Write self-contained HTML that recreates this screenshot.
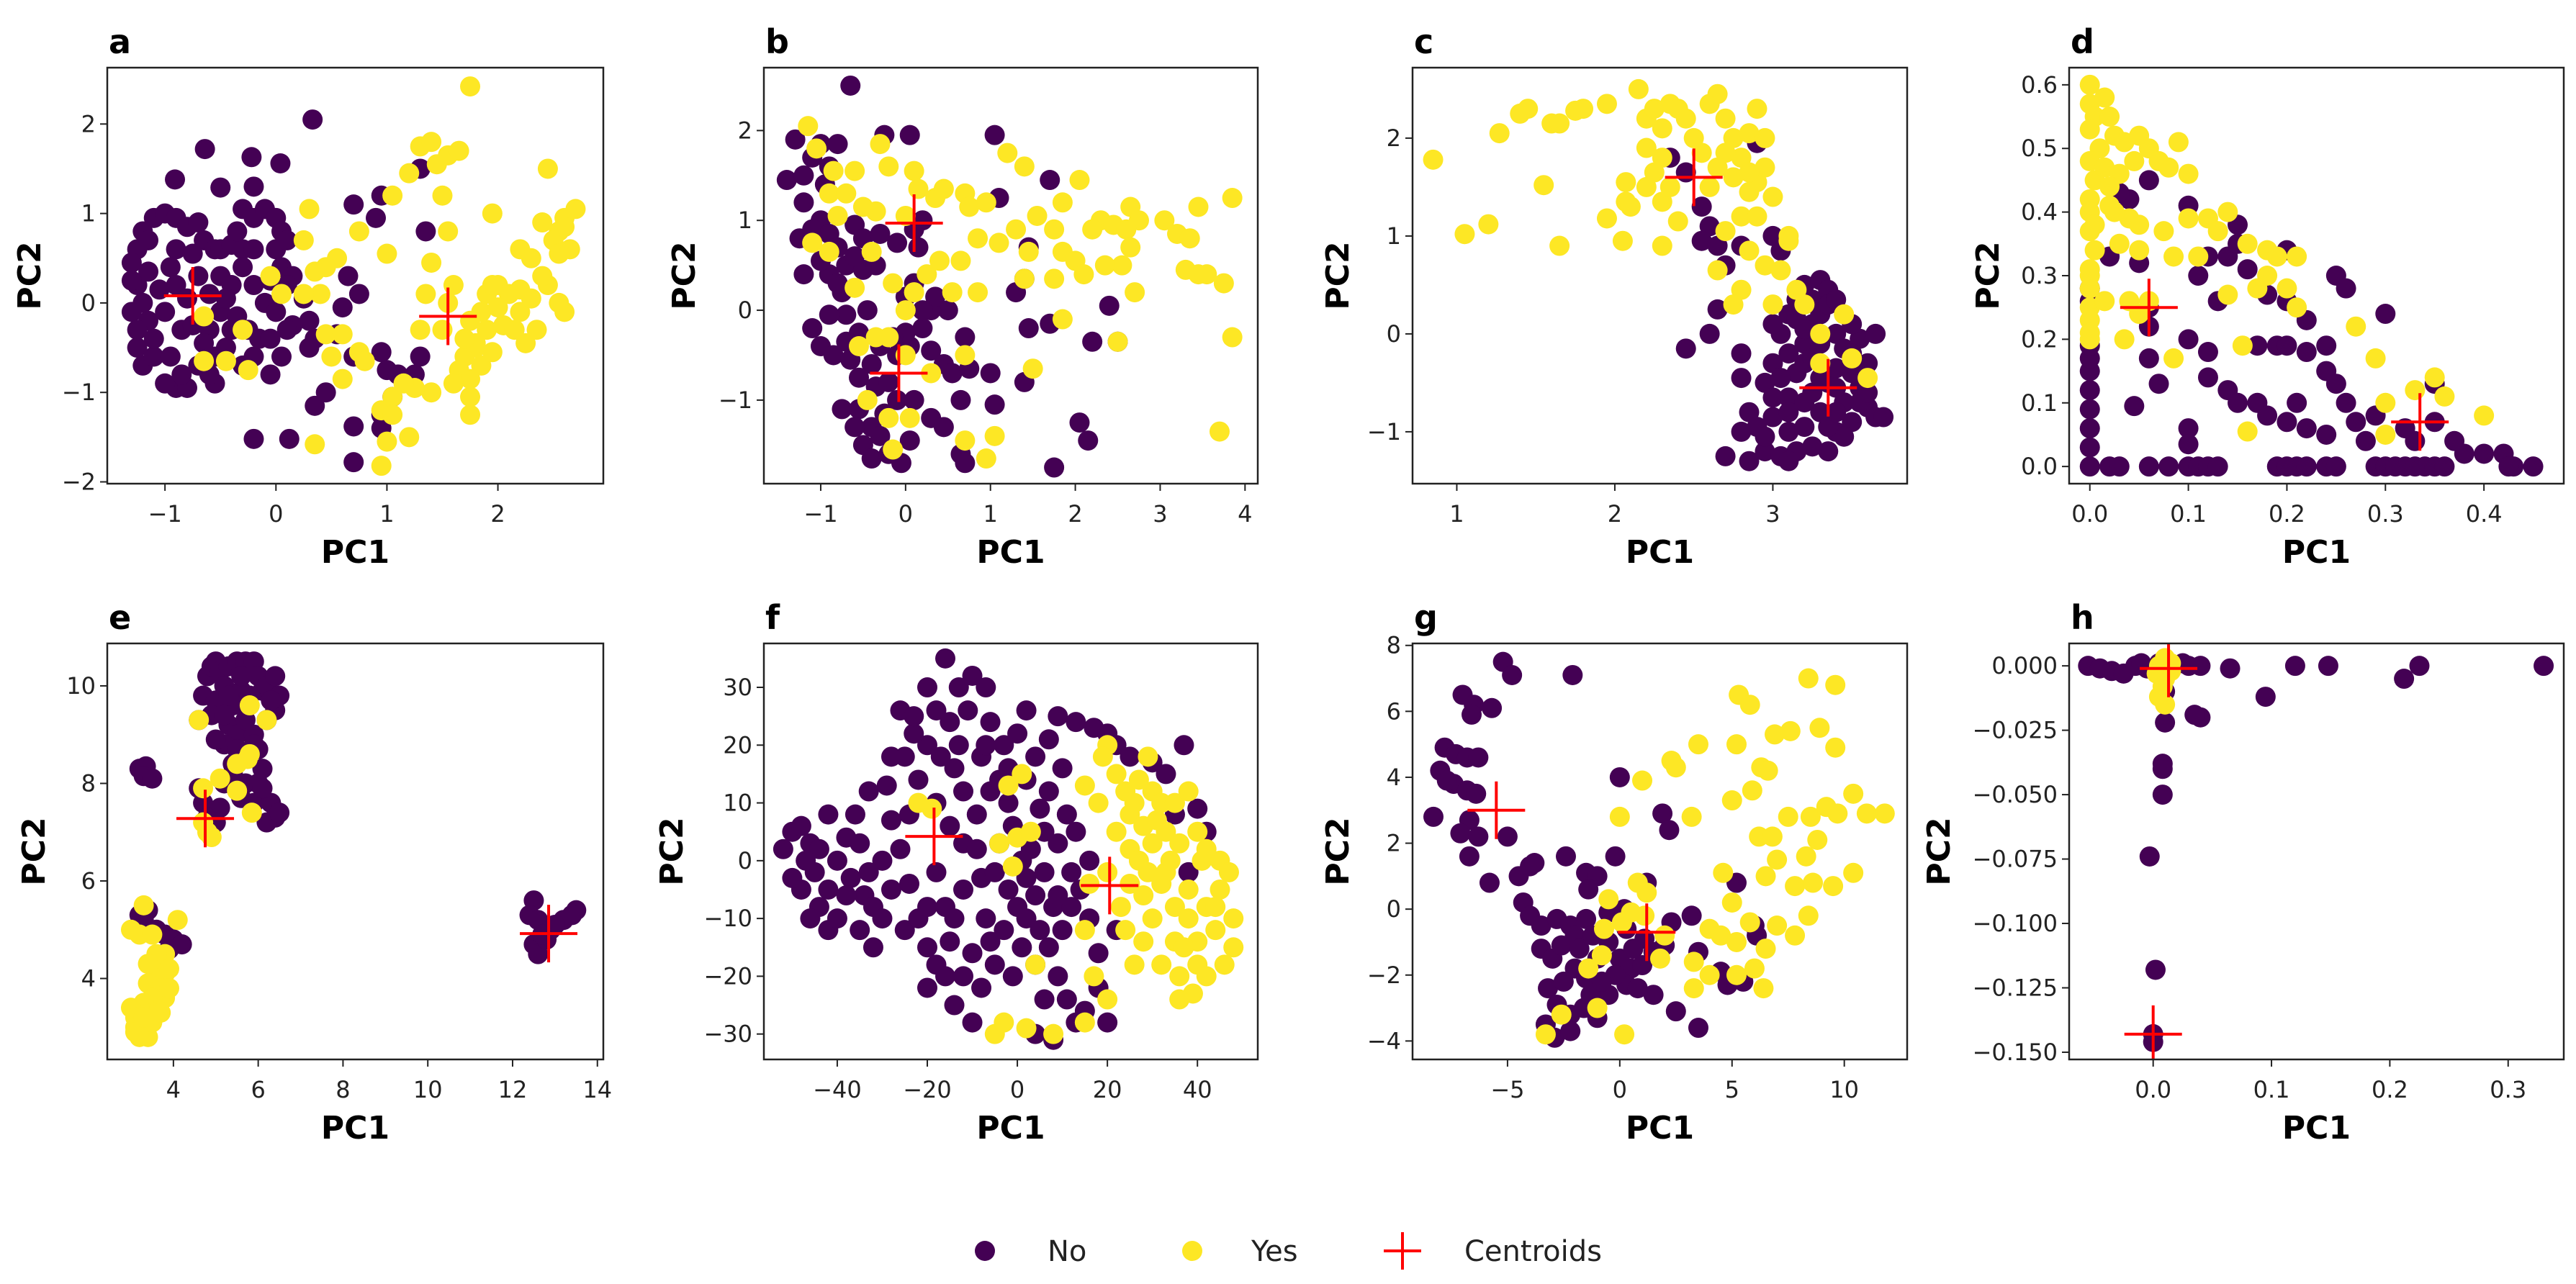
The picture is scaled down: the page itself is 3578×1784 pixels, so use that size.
<!DOCTYPE html>
<html><head><meta charset="utf-8"><style>
html,body{margin:0;padding:0;background:#fff;}
svg{display:block;font-family:"DejaVu Sans","Liberation Sans",sans-serif;}
</style></head><body>
<svg id="fig" width="3578" height="1784" viewBox="0 0 3578 1784" xmlns="http://www.w3.org/2000/svg">
<g id="legend">
<circle cx="1368" cy="1738" r="14" fill="#440154"/>
<text x="1455" y="1752" font-size="40" fill="#222">No</text>
<circle cx="1656" cy="1738" r="14" fill="#fde725"/>
<text x="1738" y="1752" font-size="40" fill="#222">Yes</text>
<g stroke="red" stroke-width="4"><line x1="1922" y1="1738" x2="1974" y2="1738"/><line x1="1948" y1="1712" x2="1948" y2="1764"/></g>
<text x="2034" y="1752" font-size="40" fill="#222">Centroids</text>
</g>
</svg>
<script>
// ---------- panel a ----------
const aNo=[[-1.25,0.6],[-1.3,0.45],[-1.25,0.2],[-1.2,0.0],[-1.15,-0.2],[-1.3,-0.1],[-1.25,-0.5],[-1.2,-0.7],[-1.1,-0.6],[-1.2,0.8],[-1.1,0.95],[-1.0,1.0],[-0.9,0.95],[-0.8,0.85],[-0.7,0.9],[-0.65,0.7],[-0.55,0.6],[-0.5,0.6],[-0.4,0.65],[-0.3,0.6],[-0.9,0.6],[-0.95,0.4],[-0.9,0.2],[-1.0,-0.1],[-0.85,-0.3],[-0.75,-0.25],[-0.6,-0.3],[-0.5,-0.1],[-0.6,0.1],[-0.7,0.3],[-0.5,0.3],[-0.4,0.2],[-0.35,-0.15],[-0.45,-0.5],[-0.55,-0.6],[-0.7,-0.7],[-0.9,-0.95],[-1.0,-0.9],[-0.8,-0.95],[-0.55,-0.9],[-0.3,-0.7],[-0.2,-0.6],[-0.25,-0.3],[-0.15,-0.4],[-0.1,0.0],[-0.2,0.2],[-0.3,0.4],[-0.2,0.6],[-0.3,1.05],[-0.2,0.95],[-0.1,1.05],[0.0,0.95],[0.05,0.8],[0.0,0.6],[0.1,0.7],[0.05,0.4],[0.15,0.3],[0.1,0.2],[0.0,-0.1],[-0.05,-0.4],[0.05,-0.6],[-0.05,-0.8],[0.3,-0.2],[0.35,-0.4],[0.15,-0.25],[0.25,0.05],[0.33,2.05],[-0.64,1.72],[-0.22,1.63],[0.04,1.56],[-0.91,1.38],[-0.5,1.29],[-0.2,1.3],[0.35,-1.15],[0.12,-1.52],[-0.2,-1.52],[0.7,-1.38],[0.7,-1.78],[0.55,-0.35],[0.7,-0.6],[0.75,0.1],[0.65,0.3],[0.95,-0.55],[1.0,-0.75],[1.1,-0.8],[1.25,-0.8],[1.3,-0.6],[0.95,-1.25],[0.95,-1.4],[0.7,1.1],[0.95,1.2],[0.9,0.95],[1.3,1.5],[1.35,0.8],[0.45,-1.0],[1.05,-1.05],[0.3,-0.5],[0.6,-0.05],[-1.15,0.35],[-1.05,0.15],[-1.1,-0.4],[-0.95,-0.6],[-0.8,0.05],[-0.85,-0.8],[-0.65,-0.45],[-1.3,0.25],[-1.25,-0.3],[-0.75,0.55],[-0.35,0.8],[-0.05,0.25],[0.1,-0.3],[-0.4,-0.3],[-0.45,0.05],[-1.15,0.7],[-0.6,-0.8]];
const aYes=[[1.75,2.42],[1.3,1.75],[1.4,1.8],[1.55,1.65],[1.65,1.7],[1.2,1.45],[1.05,1.2],[1.5,1.2],[1.95,1.0],[2.45,1.5],[2.7,1.05],[2.6,0.95],[2.55,0.8],[2.5,0.7],[2.4,0.9],[2.2,0.6],[2.3,0.5],[2.55,0.55],[2.45,0.2],[2.55,0.0],[2.6,-0.1],[2.1,0.1],[2.0,0.2],[1.9,0.1],[1.85,-0.1],[1.75,-0.2],[1.9,-0.3],[2.05,-0.25],[2.2,-0.1],[2.2,0.15],[1.8,-0.5],[1.7,-0.6],[1.65,-0.75],[1.75,-0.85],[1.8,-0.45],[2.25,-0.45],[2.35,-0.3],[1.75,-1.05],[1.75,-1.25],[1.6,-0.9],[1.4,-1.0],[1.25,-0.95],[1.15,-0.9],[1.05,-1.05],[0.95,-1.2],[1.05,-1.25],[1.0,-1.55],[1.2,-1.5],[0.95,-1.82],[0.35,-1.58],[0.6,-0.85],[0.5,-0.6],[0.45,-0.35],[0.6,-0.35],[0.55,0.5],[0.45,0.4],[0.35,0.35],[0.4,0.1],[0.25,0.1],[0.05,0.1],[-0.05,0.3],[0.25,0.7],[0.3,1.05],[0.75,0.8],[1.0,0.55],[1.4,0.45],[1.55,0.0],[1.35,0.1],[1.6,0.2],[1.5,-0.3],[1.55,0.8],[1.45,1.55],[-0.3,-0.3],[-0.25,-0.75],[-0.45,-0.65],[-0.65,-0.65],[-0.65,-0.15],[0.75,-0.55],[0.8,-0.65],[1.3,-0.3],[1.95,0.2],[1.85,-0.7],[1.7,-0.4],[2.0,-0.05],[2.15,-0.3],[1.95,-0.55],[2.6,0.85],[2.65,0.6],[2.4,0.3],[2.3,0.05]];
const aCent=[[-0.75,0.08],[1.55,-0.15]];
const aXTicks=[-1,0,1,2];
const aYTicks=[-2,-1,0,1,2];
// ---------- panel b ----------
const bNo=[[-0.65,2.5],[-1.3,1.9],[-1.0,1.85],[-0.8,1.85],[-0.25,1.95],[0.05,1.95],[1.05,1.95],[-1.4,1.45],[-1.2,1.5],[-1.1,1.7],[-0.9,1.6],[-1.2,1.2],[-1.0,1.0],[-1.25,0.8],[-1.1,0.9],[-0.9,0.85],[-0.8,0.7],[-0.6,0.95],[-0.5,0.8],[-0.9,0.4],[-0.7,0.5],[-1.0,0.55],[-0.75,0.2],[-0.5,0.45],[-0.35,0.5],[-0.3,0.85],[-0.1,0.75],[0.1,0.9],[0.15,0.7],[-0.45,0.0],[-0.7,-0.05],[-0.9,-0.05],[-1.1,-0.2],[-1.0,-0.4],[-0.85,-0.5],[-0.7,-0.35],[-0.55,-0.25],[-0.4,-0.6],[-0.55,-0.75],[-0.35,-0.85],[-0.2,-0.8],[-0.1,-0.5],[0.05,-0.4],[0.0,-0.25],[0.2,-0.2],[0.3,-0.45],[0.45,-0.6],[0.55,-0.7],[-0.1,-1.0],[-0.25,-1.15],[-0.4,-1.3],[-0.55,-1.1],[-0.75,-1.1],[-0.5,-1.5],[-0.4,-1.65],[-0.2,-1.6],[0.05,-1.45],[-0.05,-1.7],[0.3,-1.2],[0.45,-1.3],[0.65,-1.6],[0.7,-1.7],[0.65,-1.0],[0.75,-0.65],[1.05,-1.05],[1.0,-0.7],[0.7,-0.3],[0.5,0.0],[0.3,0.0],[0.35,0.15],[0.1,0.3],[0.2,0.0],[1.1,1.25],[1.45,0.7],[1.4,0.35],[1.3,0.2],[1.45,-0.2],[1.4,-0.8],[1.7,1.45],[1.75,-1.75],[1.7,-0.15],[2.2,-0.35],[2.4,0.05],[2.5,-0.35],[2.05,-1.25],[2.15,-1.45],[0.2,1.0],[0.1,-1.0],[-0.3,-0.4],[-0.65,-0.55],[0.0,0.15],[-0.6,0.6],[-0.95,1.4],[-0.3,-1.4],[-0.6,-1.3],[-0.15,-0.3],[-0.8,0.3],[-1.2,0.4]];
const bYes=[[-1.15,2.05],[-1.05,1.8],[-0.85,1.55],[-0.9,1.3],[-0.7,1.3],[-0.6,1.55],[-0.3,1.85],[-0.2,1.6],[0.1,1.55],[0.15,1.35],[0.35,1.25],[0.45,1.35],[0.7,1.3],[0.75,1.15],[0.95,1.2],[1.2,1.75],[1.4,1.6],[1.75,0.9],[1.85,1.2],[2.05,1.45],[1.55,1.05],[1.3,0.9],[1.1,0.75],[0.85,0.8],[0.65,0.55],[0.4,0.55],[0.25,0.4],[0.0,1.05],[-0.35,1.1],[-0.5,1.15],[-0.8,1.05],[-1.1,0.75],[-0.9,0.65],[-0.6,0.25],[-0.4,0.65],[-0.15,0.3],[0.0,0.0],[0.1,0.2],[-0.2,-0.3],[-0.35,-0.3],[-0.55,-0.4],[0.3,-0.7],[0.0,-0.5],[-0.45,-1.0],[-0.2,-1.2],[0.05,-1.2],[-0.15,-1.55],[0.7,-1.45],[0.95,-1.65],[1.05,-1.4],[0.7,-0.5],[0.85,0.2],[0.55,0.2],[1.4,0.35],[1.45,0.65],[1.5,-0.65],[1.85,-0.1],[1.85,0.65],[2.0,0.55],[2.3,1.0],[2.45,0.95],[2.65,1.15],[2.75,1.0],[2.6,0.9],[2.55,0.5],[2.65,0.7],[2.7,0.2],[2.5,-0.35],[3.05,1.0],[3.2,0.85],[3.35,0.8],[3.3,0.45],[3.45,0.4],[3.55,0.4],[3.75,0.3],[3.85,-0.3],[3.85,1.25],[3.45,1.15],[3.7,-1.35],[2.35,0.5],[2.1,0.4],[2.2,0.9],[1.75,0.35]];
const bCent=[[0.1,0.97],[-0.08,-0.7]];
const bXTicks=[-1,0,1,2,3,4];
const bYTicks=[-1,0,1,2];
// ---------- panel c ----------
const cNo=[[2.35,1.8],[2.45,1.65],[2.55,1.3],[2.6,1.1],[2.55,0.95],[2.65,0.9],[2.7,0.7],[2.9,1.95],[2.8,0.9],[3.0,1.0],[3.05,0.85],[2.65,0.25],[2.6,0.0],[2.45,-0.15],[2.8,-0.2],[2.8,-0.45],[2.85,-0.8],[2.8,-1.0],[2.7,-1.25],[2.85,-1.3],[2.95,-1.2],[3.05,-1.25],[3.1,-1.0],[3.0,-0.85],[2.95,-0.5],[3.0,-0.3],[3.05,0.0],[3.1,0.2],[3.2,0.5],[3.25,0.35],[3.3,0.55],[3.35,0.45],[3.3,0.2],[3.4,0.0],[3.2,-0.1],[3.15,-0.4],[3.25,-0.6],[3.35,-0.5],[3.3,-0.8],[3.2,-0.95],[3.4,-1.0],[3.35,-1.2],[3.25,-1.15],[3.5,-0.9],[3.45,-0.7],[3.55,-0.55],[3.6,-0.75],[3.65,-0.85],[3.7,-0.85],[3.55,-0.05],[3.65,0.0],[3.5,0.1],[3.4,-0.35],[3.15,-1.2],[3.1,-0.65],[3.45,-0.15],[3.0,-0.65],[2.9,-0.95],[3.6,-0.3],[3.25,0.1],[3.15,0.15],[3.1,-0.2],[3.2,-0.3],[3.3,-0.1],[3.4,-0.55],[3.5,-0.4],[3.45,-1.05],[3.55,-0.7],[3.05,-0.45],[3.1,-0.8],[3.2,-0.7],[3.3,-0.45],[3.35,-0.95],[3.25,-0.25],[3.35,0.3],[3.15,0.35],[3.0,0.1],[2.95,-1.05],[3.1,-1.3],[3.4,-0.8],[3.5,-0.2],[3.6,-0.6],[3.4,0.35],[3.2,0.05]];
const cYes=[[0.85,1.78],[1.05,1.02],[1.2,1.12],[1.27,2.05],[1.4,2.25],[1.45,2.3],[1.55,1.52],[1.6,2.15],[1.65,2.15],[1.65,0.9],[1.75,2.28],[1.8,2.3],[1.95,2.35],[1.95,1.18],[2.05,0.95],[2.07,1.55],[2.07,1.35],[2.1,1.3],[2.15,2.5],[2.2,2.2],[2.25,2.3],[2.3,2.1],[2.35,2.35],[2.4,2.3],[2.3,1.8],[2.2,1.9],[2.2,1.5],[2.3,1.35],[2.4,1.15],[2.3,0.9],[2.5,2.0],[2.6,2.35],[2.65,2.45],[2.7,2.2],[2.75,2.0],[2.8,1.8],[2.85,2.05],[2.9,2.3],[2.95,2.0],[2.75,1.6],[2.85,1.45],[2.95,1.7],[3.0,1.4],[2.8,1.2],[2.6,1.5],[2.9,1.2],[3.1,1.0],[2.7,1.05],[2.95,0.7],[3.05,0.65],[2.8,0.45],[3.15,0.45],[2.75,0.3],[3.2,0.3],[3.3,0.0],[3.45,0.2],[3.5,-0.25],[3.3,-0.3],[3.6,-0.45],[2.85,0.85],[3.1,0.95],[2.65,0.65],[3.0,0.3],[2.45,2.2],[2.55,1.85],[2.7,1.85],[2.9,1.55],[2.25,1.65],[2.35,1.5],[2.65,1.7],[2.85,1.65]];
const cCent=[[2.5,1.6],[3.35,-0.55]];
const cXTicks=[1,2,3];
const cYTicks=[-1,0,1,2];
// ---------- panel d ----------
const dNo=[[0.0,0.0],[0.0,0.03],[0.0,0.06],[0.0,0.09],[0.0,0.12],[0.0,0.15],[0.0,0.17],[0.0,0.19],[0.0,0.26],[0.0,0.28],[0.02,0.0],[0.03,0.0],[0.06,0.0],[0.08,0.0],[0.1,0.0],[0.11,0.0],[0.12,0.0],[0.13,0.0],[0.19,0.0],[0.2,0.0],[0.21,0.0],[0.22,0.0],[0.24,0.0],[0.25,0.0],[0.29,0.0],[0.3,0.0],[0.31,0.0],[0.32,0.0],[0.33,0.0],[0.34,0.0],[0.35,0.0],[0.36,0.0],[0.38,0.02],[0.4,0.02],[0.42,0.02],[0.43,0.0],[0.45,0.0],[0.425,0.0],[0.04,0.42],[0.03,0.43],[0.06,0.45],[0.045,0.095],[0.06,0.17],[0.05,0.32],[0.06,0.25],[0.06,0.22],[0.1,0.06],[0.1,0.035],[0.1,0.2],[0.11,0.3],[0.1,0.41],[0.12,0.33],[0.14,0.33],[0.13,0.26],[0.12,0.18],[0.12,0.14],[0.14,0.12],[0.15,0.35],[0.15,0.1],[0.17,0.1],[0.18,0.08],[0.17,0.19],[0.19,0.19],[0.18,0.27],[0.2,0.26],[0.2,0.19],[0.22,0.18],[0.21,0.1],[0.2,0.07],[0.22,0.06],[0.24,0.05],[0.24,0.15],[0.25,0.13],[0.26,0.1],[0.25,0.3],[0.26,0.28],[0.22,0.23],[0.24,0.19],[0.27,0.07],[0.3,0.24],[0.28,0.04],[0.29,0.08],[0.33,0.04],[0.35,0.07],[0.32,0.06],[0.35,0.13],[0.37,0.04],[0.15,0.38],[0.16,0.31],[0.07,0.13],[0.02,0.33],[0.2,0.34]];
const dYes=[[0.0,0.6],[0.0,0.57],[0.005,0.55],[0.0,0.53],[0.01,0.5],[0.0,0.48],[0.005,0.45],[0.0,0.42],[0.0,0.4],[0.0,0.37],[0.005,0.34],[0.0,0.31],[0.0,0.28],[0.0,0.25],[0.0,0.23],[0.0,0.21],[0.0,0.2],[0.015,0.58],[0.02,0.55],[0.025,0.52],[0.035,0.51],[0.05,0.52],[0.06,0.5],[0.07,0.48],[0.09,0.51],[0.08,0.47],[0.1,0.46],[0.015,0.47],[0.03,0.46],[0.02,0.44],[0.045,0.48],[0.005,0.38],[0.02,0.41],[0.04,0.39],[0.05,0.38],[0.075,0.37],[0.1,0.39],[0.12,0.39],[0.14,0.4],[0.13,0.37],[0.03,0.35],[0.05,0.34],[0.085,0.33],[0.11,0.33],[0.16,0.35],[0.18,0.34],[0.18,0.3],[0.19,0.33],[0.21,0.33],[0.17,0.28],[0.2,0.28],[0.04,0.26],[0.06,0.26],[0.015,0.26],[0.035,0.2],[0.05,0.24],[0.085,0.17],[0.14,0.27],[0.155,0.19],[0.21,0.25],[0.27,0.22],[0.29,0.17],[0.3,0.1],[0.3,0.05],[0.33,0.12],[0.36,0.11],[0.35,0.14],[0.4,0.08],[0.16,0.055],[0.025,0.4],[0.0,0.3]];
const dCent=[[0.06,0.25],[0.335,0.07]];
const dXTicks=[0,0.1,0.2,0.3,0.4];
const dYTicks=[0,0.1,0.2,0.3,0.4,0.5,0.6];
// ---------- panel e ----------
const eNo=[[4.6,9.3],[4.7,9.8],[4.8,10.2],[4.9,10.4],[5.0,10.5],[5.1,10.3],[5.2,10.0],[5.0,9.7],[4.9,9.4],[5.3,10.4],[5.5,10.5],[5.7,10.5],[5.8,10.3],[5.9,10.5],[6.0,10.2],[6.1,9.9],[6.2,10.0],[6.4,10.2],[6.5,9.8],[6.4,9.5],[6.2,9.3],[5.6,9.9],[5.4,9.6],[5.3,9.2],[5.5,9.0],[5.7,9.3],[5.9,9.0],[6.0,8.7],[5.6,8.6],[5.4,8.4],[5.2,8.8],[5.0,8.9],[5.2,8.0],[5.4,8.2],[5.7,8.0],[6.0,8.0],[6.1,8.3],[5.9,7.6],[6.3,7.6],[6.4,7.3],[6.2,7.2],[6.5,7.4],[5.1,7.5],[4.6,7.9],[4.7,7.6],[4.8,7.3],[5.0,7.2],[3.2,8.3],[3.35,8.35],[3.3,8.15],[3.5,8.1],[3.2,5.3],[3.4,5.4],[3.3,5.2],[3.6,5.0],[3.8,4.9],[4.0,4.8],[4.2,4.7],[3.9,4.6],[12.5,5.6],[12.4,5.3],[12.6,5.2],[12.9,5.0],[13.2,5.2],[13.5,5.4],[13.4,5.3],[12.5,4.7],[12.6,4.5],[12.8,4.8],[13.0,5.1],[12.7,4.9],[5.3,9.8],[5.6,10.2],[5.8,9.8],[6.3,9.7],[5.9,8.8],[5.2,9.4],[5.5,8.7],[6.1,7.9],[5.6,7.7]];
const eYes=[[4.6,9.3],[5.8,9.6],[6.2,9.3],[4.7,7.9],[5.1,8.1],[5.5,7.85],[5.75,8.5],[5.8,8.6],[5.5,8.4],[5.85,7.4],[4.8,7.0],[4.9,6.9],[4.7,7.2],[3.0,5.0],[3.3,5.5],[3.2,4.9],[3.5,4.9],[4.1,5.2],[3.8,4.5],[3.7,4.3],[3.8,4.1],[3.6,4.0],[3.4,3.9],[3.7,3.8],[3.8,3.6],[3.5,3.6],[3.3,3.5],[3.6,3.3],[3.2,3.4],[3.0,3.4],[3.1,3.2],[3.3,3.0],[3.1,3.0],[3.2,2.8],[3.4,2.8],[3.5,3.1],[3.7,3.3],[3.9,3.8],[3.1,2.9],[3.3,3.2],[3.6,4.5],[3.9,4.2],[3.4,4.3]];
const eCent=[[4.75,7.28],[12.85,4.92]];
const eXTicks=[4,6,8,10,12,14];
const eYTicks=[4,6,8,10];
// ---------- panel f ----------
const fNo=[[-52,2],[-50,5],[-48,6],[-46,3],[-45,-2],[-48,-5],[-50,-3],[-44,-8],[-46,-10],[-42,-12],[-40,-10],[-42,-5],[-40,0],[-38,4],[-42,8],[-36,8],[-35,3],[-37,-3],[-34,-6],[-32,-8],[-35,-12],[-30,-10],[-32,-15],[-28,-5],[-30,0],[-33,12],[-28,7],[-26,2],[-29,13],[-25,-12],[-22,-10],[-20,-15],[-18,-18],[-15,-14],[-12,-20],[-10,-16],[-8,-22],[-14,-25],[-10,-28],[-20,-8],[-16,-8],[-12,-5],[-8,-3],[-5,-2],[-2,-5],[0,-8],[2,-3],[4,-6],[6,-2],[8,-8],[-3,-12],[1,-15],[4,-18],[7,-15],[10,-12],[12,-8],[9,-20],[11,-24],[6,-24],[4,-30],[8,-31],[13,-28],[15,-26],[18,-22],[14,-5],[16,-10],[12,-2],[16,0],[13,5],[-4,3],[-1,6],[3,2],[6,5],[9,3],[11,8],[7,12],[2,14],[-2,16],[-6,12],[-9,8],[-12,12],[-14,16],[-17,18],[-20,20],[-23,22],[-25,18],[-22,14],[-18,10],[-15,6],[-12,3],[-28,18],[-26,26],[-23,25],[-20,30],[-16,35],[-13,30],[-10,32],[-7,30],[-11,26],[-6,24],[-3,20],[0,22],[2,26],[-8,18],[-4,14],[4,18],[7,21],[9,25],[13,24],[17,23],[20,22],[22,20],[25,18],[30,17],[33,15],[37,20],[35,8],[40,9],[42,5],[38,-2],[20,-28],[22,-12],[18,-16],[-5,-18],[-7,-10],[-44,2],[-38,-6],[-47,0],[-33,-2],[-24,-4],[-18,-2],[-14,-10],[-6,-14],[-1,-20],[2,-10],[5,-12],[9,-6],[1,0],[-9,2],[-15,24],[-18,26],[-13,20],[-7,20],[-2,10],[5,9],[10,16],[-24,8],[-20,-22],[-16,-20]];
const fYes=[[20,20],[22,15],[18,10],[24,12],[27,14],[30,12],[32,10],[35,10],[38,12],[25,8],[28,6],[22,5],[25,2],[30,3],[33,5],[36,3],[40,5],[42,2],[45,0],[47,-2],[20,-2],[25,-4],[28,-6],[32,-4],[35,-8],[38,-10],[42,-8],[45,-5],[48,-10],[48,-15],[46,-18],[40,-18],[36,-20],[32,-18],[28,-14],[24,-12],[30,-10],[35,-14],[40,-14],[44,-12],[38,-5],[33,-2],[27,0],[23,-8],[39,-23],[15,-12],[17,-20],[20,-24],[15,-28],[-5,-30],[-3,-28],[2,-29],[8,-30],[-1,-1],[-4,3],[0,4],[3,5],[-2,13],[1,15],[-22,10],[-19,9],[4,-18],[16,-4],[19,18],[15,13],[29,18],[41,0],[44,-8],[36,-24],[26,10],[31,7],[34,0],[29,-2],[37,-15],[42,-20],[26,-18]];
const fCent=[[-18.5,4.2],[20.5,-4.3]];
const fXTicks=[-40,-20,0,20,40];
const fYTicks=[-30,-20,-10,0,10,20,30];
// ---------- panel g ----------
const gNo=[[-5.2,7.5],[-4.8,7.1],[-2.1,7.1],[-7,6.5],[-6.5,6.2],[-6.6,5.9],[-5.7,6.1],[-7.8,4.9],[-7.3,4.7],[-6.8,4.6],[-6.3,4.6],[-8,4.2],[-7.4,3.8],[-6.8,3.6],[-6.4,3.5],[-7.7,3.9],[-8.3,2.8],[-6.7,2.7],[-7.1,2.3],[-6.3,2.2],[-5,2.2],[-6.7,1.6],[-5.8,0.8],[-4.5,1.0],[-4,1.3],[-3.8,1.4],[-2.4,1.6],[-0.2,1.6],[0,4],[1.9,2.9],[2.2,2.4],[-1.5,1.1],[-1,1.0],[-1.4,0.6],[1.2,0.8],[-4.3,0.2],[-4,-0.2],[-3.5,-0.5],[-2.8,-0.3],[-2.2,-0.5],[-1.5,-0.3],[-0.5,-0.1],[0.2,0.0],[2.3,-0.4],[3.2,-0.2],[-3.5,-1.2],[-3,-1.5],[-2.6,-1.1],[-2,-1.8],[-1.5,-2.1],[-1,-1.5],[-0.5,-1.0],[0,-1.5],[0.5,-1.8],[1,-1.7],[1.5,-1.3],[2,-1.1],[3.5,-1.3],[4.5,-1.9],[4.8,-2.3],[-3.2,-2.4],[-2.8,-2.9],[-2.2,-3.2],[-1.6,-3.0],[-1,-3.3],[-0.5,-2.6],[0.3,-2.3],[0.8,-2.4],[1.5,-2.6],[2.5,-3.1],[3.5,-3.6],[-3.3,-3.5],[-2.9,-3.9],[-2.2,-3.7],[-1.3,-2.6],[-0.2,-2.0],[6,-0.5],[6.1,-0.8],[5.2,0.8],[5.5,-2.2],[0.3,-0.6],[-2,-0.8],[1.1,-0.9],[-1.8,-1.2],[-0.8,-2.2],[0.6,-1.2],[-2.5,-2.2],[-1.2,-0.8]];
const gYes=[[8.4,7.0],[9.6,6.8],[5.3,6.5],[5.8,6.2],[6.9,5.3],[7.6,5.4],[8.9,5.5],[3.5,5.0],[5.2,5.0],[9.6,4.9],[2.3,4.5],[2.5,4.3],[6.3,4.3],[6.6,4.2],[1,3.9],[5.9,3.6],[5,3.3],[10.4,3.5],[0,2.8],[3.2,2.8],[7.5,2.8],[8.5,2.8],[9.2,3.1],[9.7,2.9],[11,2.9],[11.8,2.9],[6.2,2.2],[6.8,2.2],[8.8,2.1],[7,1.5],[8.3,1.6],[9.5,0.7],[10.4,1.1],[4.6,1.1],[6.5,1.0],[7.8,0.7],[8.6,0.8],[0.8,0.8],[-0.5,0.3],[1.2,0.5],[5,0.2],[5.8,-0.4],[7,-0.5],[8.4,-0.2],[-0.7,-0.6],[0.1,-0.4],[1.8,-1.5],[2,-0.8],[3.3,-1.6],[4,-0.6],[4.5,-0.8],[5.2,-1.0],[6.5,-1.2],[7.8,-0.8],[6,-1.8],[4,-2.0],[5.2,-2.0],[6.4,-2.4],[3.3,-2.4],[-0.8,-1.4],[-1.4,-1.8],[-2.6,-3.2],[-3.3,-3.8],[0.2,-3.8],[-1,-3.0],[1.1,-0.2],[0.5,-0.1]];
const gCent=[[-5.5,3.0],[1.2,-0.7]];
const gXTicks=[-5,0,5,10];
const gYTicks=[-4,-2,0,2,4,6,8];
// ---------- panel h ----------
const hNo=[[-0.055,0],[-0.045,-0.001],[-0.035,-0.002],[-0.025,-0.003],[-0.015,0],[-0.01,0.001],[-0.005,-0.001],[0.005,0.001],[0.015,-0.001],[0.025,0.001],[0.03,0],[0.04,0],[0.065,-0.001],[0.12,0],[0.148,0],[0.212,-0.005],[0.225,0],[0.33,0],[0.095,-0.012],[0.01,-0.022],[0.04,-0.02],[0.035,-0.019],[0.008,-0.038],[0.008,-0.04],[0.008,-0.05],[-0.003,-0.074],[0.002,-0.118],[0.0,-0.143],[0.0,-0.146],[0.01,-0.01]];
const hYes=[[0.005,0.0],[0.01,0.003],[0.015,-0.002],[0.01,-0.005],[0.008,-0.008],[0.005,-0.012],[0.01,-0.015],[0.015,0.001],[0.003,-0.003]];
const hCent=[[0.013,-0.001],[0.0,-0.143]];
const hXTicks=[0,0.1,0.2,0.3];
const hYTicks=[-0.15,-0.125,-0.1,-0.075,-0.05,-0.025,0];

const NS='http://www.w3.org/2000/svg';
const svg=document.getElementById('fig');
function mk(tag,attrs,parent){const e=document.createElementNS(NS,tag);for(const k in attrs)e.setAttribute(k,attrs[k]);parent.appendChild(e);return e;}
function fmt(v,d){const s=v.toFixed(d);return s.replace('-','\u2212');}

const panels=[
 {id:'a',L:149,T:94,W:689,H:578,xr:[-1.52,2.95],yr:[-2.02,2.63],no:aNo,yes:aYes,c:aCent,xt:aXTicks,yt:aYTicks,xd:0,yd:0,pc2:109},
 {id:'b',L:1061,T:94,W:686,H:578,xr:[-1.67,4.15],yr:[-1.93,2.70],no:bNo,yes:bYes,c:bCent,xt:bXTicks,yt:bYTicks,xd:0,yd:0,pc2:112},
 {id:'c',L:1962,T:94,W:687,H:578,xr:[0.72,3.85],yr:[-1.53,2.72],no:cNo,yes:cYes,c:cCent,xt:cXTicks,yt:cYTicks,xd:0,yd:0,pc2:105},
 {id:'d',L:2874,T:94,W:687,H:578,xr:[-0.021,0.481],yr:[-0.027,0.627],no:dNo,yes:dYes,c:dCent,xt:dXTicks,yt:dYTicks,xd:1,yd:1,pc2:114},
 {id:'e',L:149,T:894,W:689,H:578,xr:[2.44,14.14],yr:[2.34,10.87],no:eNo,yes:eYes,c:eCent,xt:eXTicks,yt:eYTicks,xd:0,yd:0,pc2:103},
 {id:'f',L:1061,T:894,W:686,H:578,xr:[-56.3,53.4],yr:[-34.4,37.6],no:fNo,yes:fYes,c:fCent,xt:fXTicks,yt:fYTicks,xd:0,yd:0,pc2:129},
 {id:'g',L:1962,T:894,W:687,H:578,xr:[-9.23,12.8],yr:[-4.56,8.06],no:gNo,yes:gYes,c:gCent,xt:gXTicks,yt:gYTicks,xd:0,yd:0,pc2:105},
 {id:'h',L:2874,T:894,W:687,H:578,xr:[-0.071,0.347],yr:[-0.1528,0.0087],no:hNo,yes:hYes,c:hCent,xt:hXTicks,yt:hYTicks,xd:1,yd:3,pc2:182}
];

panels.forEach(p=>{
 const sx=v=>p.L+(v-p.xr[0])/(p.xr[1]-p.xr[0])*p.W;
 const sy=v=>p.T+p.H-(v-p.yr[0])/(p.yr[1]-p.yr[0])*p.H;
 const g=mk('g',{},svg);
 
 
 const clipId='clip-'+p.id;
 const cp=mk('clipPath',{id:clipId},g);mk('rect',{x:p.L,y:p.T,width:p.W,height:p.H},cp);
 const pts=mk('g',{'clip-path':'url(#'+clipId+')'},g);
 
 
 p.no.forEach(d=>{const c=mk('circle',{cx:sx(d[0]),cy:sy(d[1]),r:14,fill:'#440154'},pts);
  
  });
 p.yes.forEach(d=>{const c=mk('circle',{cx:sx(d[0]),cy:sy(d[1]),r:14,fill:'#fde725'},pts);
  
  });
 p.c.forEach(d=>{const cg=mk('g',{stroke:'#ff0000','stroke-width':4},pts);
  
  
  const x=sx(d[0]),y=sy(d[1]);
  mk('line',{x1:x-40,y1:y,x2:x+40,y2:y},cg);mk('line',{x1:x,y1:y-40,x2:x,y2:y+40},cg);});
 const fr=mk('rect',{x:p.L,y:p.T,width:p.W,height:p.H,fill:'none',stroke:'#222','stroke-width':2.5},g);
 
 
 p.xt.forEach(v=>{const x=sx(v);
  mk('line',{x1:x,y1:p.T+p.H,x2:x,y2:p.T+p.H+10,stroke:'#222','stroke-width':2},g);
  const t=mk('text',{x:x,y:p.T+p.H+53,'font-size':32,'text-anchor':'middle',fill:'#222'},g);
  t.textContent=fmt(v,p.xd);
  
  });
 p.yt.forEach(v=>{const y=sy(v);
  mk('line',{x1:p.L-10,y1:y,x2:p.L,y2:y,stroke:'#222','stroke-width':2},g);
  const t=mk('text',{x:p.L-16,y:y+11,'font-size':32,'text-anchor':'end',fill:'#222'},g);
  t.textContent=fmt(v,p.yd);
  
  });
 const xl=mk('text',{x:p.L+p.W/2,y:p.T+p.H+110,'font-size':44,'font-weight':'bold','text-anchor':'middle',fill:'#000'},g);
 xl.textContent='PC1';
 
 
 const yx=p.L-p.pc2+16;const yy=p.T+p.H/2;
 const yl=mk('text',{x:yx,y:yy,'font-size':44,'font-weight':'bold','text-anchor':'middle',fill:'#000',transform:'rotate(-90 '+yx+' '+yy+')'},g);
 yl.textContent='PC2';
 
 
 const lt=mk('text',{x:p.L+2,y:p.T-20,'font-size':46,'font-weight':'bold',fill:'#000'},g);
 lt.textContent=p.id;
 
 
});
</script>
</body></html>
